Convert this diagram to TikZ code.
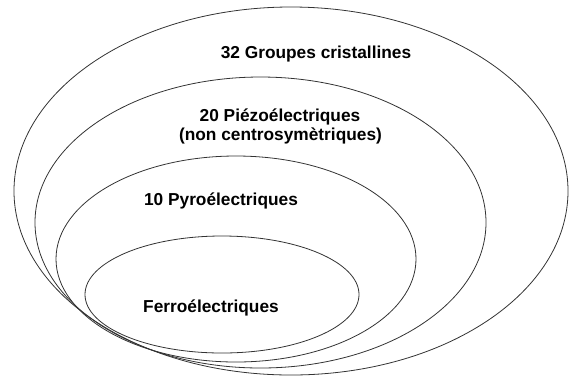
\documentclass[tikz,border=0pt]{standalone}
\usepackage{fontspec}
\setmainfont{Liberation Sans}
\usetikzlibrary{shapes.geometric}

\begin{document}
\begin{tikzpicture}[
    x=1pt, y=-1pt,
    ring/.style={draw=black!80, line width=0.8pt, ellipse, inner sep=0pt},
    lbl/.style={font=\bfseries\fontsize{17.3}{19}\selectfont, inner sep=0pt, anchor=base}
]
\useasboundingbox (0,0) rectangle (569,376);
% nested classes
\node[ring, minimum width=554pt, minimum height=368pt] (groupes) at (291,191) {};
\node[ring, minimum width=451pt, minimum height=291pt] (piezo) at (260.5,222.5) {};
\node[ring, minimum width=360pt, minimum height=206pt] (pyro) at (236,259) {};
\node[ring, minimum width=274pt, minimum height=117pt] (ferro) at (222,294.5) {};

\node[lbl] (tgroupes) at (316,58) {32 Groupes cristallines};
\node[lbl] (tpiezo) at (280,121.7) {20 Piézoélectriques};
\node[lbl] (tcentro) at (280.5,140.5) {(non centrosymètriques)};
\node[lbl] (tpyro) at (221,205) {10 Pyroélectriques};
\node[lbl] (tferro) at (211,312) {Ferroélectriques};
\end{tikzpicture}
\end{document}
